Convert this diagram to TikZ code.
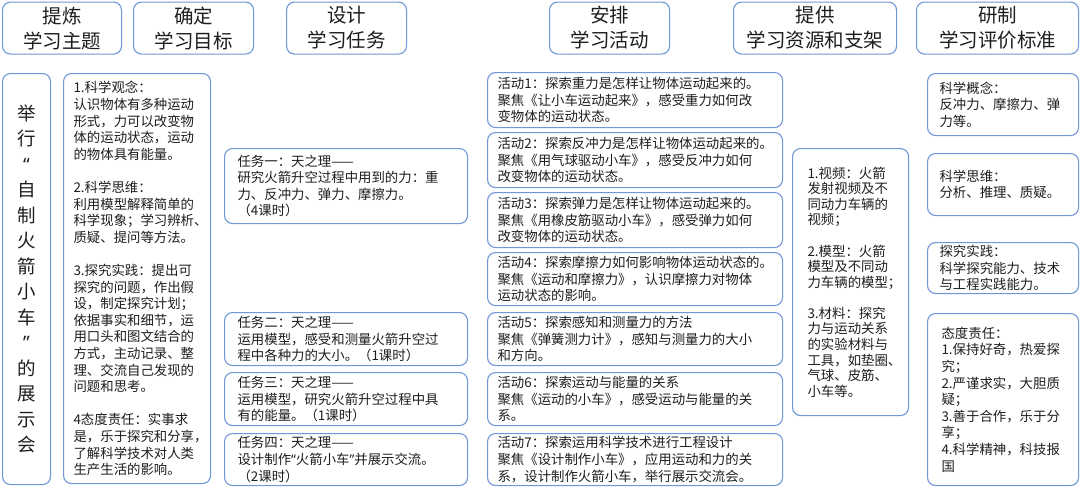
\documentclass[tikz,border=0pt]{standalone}
\usepackage{fontspec}
\setmainfont{Noto Sans CJK SC}
\newfontfamily\quotefont{Noto Sans}
\usetikzlibrary{positioning}
\definecolor{frame}{HTML}{7097D8}
\definecolor{ink}{HTML}{1E1E1E}
\newcommand{\headfont}{\fontsize{19.5}{25}\selectfont}
\newcommand{\themefont}{\fontsize{18.5}{25.5}\selectfont}
\newcommand{\bodyfont}{\fontsize{13.4}{16.6}\selectfont}
\newcommand{\gap}{\\[16.6pt]}
\newcommand{\openq}{{\quotefont“}}
\newcommand{\closeq}{{\quotefont”}}

\begin{document}
\begin{tikzpicture}[x=1pt, y=-1pt,
  box/.style={draw=frame, line width=1.1pt, rounded corners=8pt, inner sep=0pt, anchor=north west, text=ink},
  head/.style={box, minimum height=52, align=center, font=\headfont},
  cell/.style={box, align=left, font=\bodyfont, inner xsep=#1},
  cell/.default=10pt]
  \useasboundingbox[fill=white] (0,0) rectangle (1080,488);

  % header row
  \foreach \nm/\x/\w/\txt in {h1/2/119/{提炼\\学习主题}, h2/133/120/{确定\\学习目标},
      h3/286/120/{设计\\学习任务}, h4/549/120/{安排\\学习活动},
      h5/733/163/{提供\\学习资源和支架}, h6/916/162/{研制\\学习评价标准}}
    \node[head, minimum width=\w] (\nm) at (\x,1.5) {\txt};

  % theme
  \node[box, minimum width=48, minimum height=411, align=center, font=\themefont] (theme) at (2,73)
    {举\\行\\\openq\\自\\制\\火\\箭\\小\\车\\\closeq\\的\\展\\示\\会};

  % goals
  \node[cell, minimum width=147, minimum height=410, text width=127] (goals) at (63,73)
    {1.科学观念：\\认识物体有多种运动\\形式，力可以改变物\\体的运动状态，运动\\的物体具有能量。\gap
     2.科学思维：\\利用模型解释简单的\\科学现象；学习辨析、\\质疑、提问等方法。\gap
     3.探究实践：提出可\\探究的问题，作出假\\设，制定探究计划；\\依据事实和细节，运\\用口头和图文结合的\\方式，主动记录、整\\理、交流自己发现的\\问题和思考。\gap
     4态度责任：实事求\\是，乐于探究和分享，\\了解科学技术对人类\\生产生活的影响。};

  % tasks
  \node[cell=13pt, minimum width=243, minimum height=75, text width=217] (task1) at (224,148)
    {任务一：天之理——\\研究火箭升空过程中用到的力：重\\力、反冲力、弹力、摩擦力。\\（4课时）};
  \node[cell=13pt, minimum width=243, minimum height=53, text width=217] (task2) at (224,312)
    {任务二：天之理——\\运用模型，感受和测量火箭升空过\\程中各种力的大小。（1课时）};
  \node[cell=13pt, minimum width=243, minimum height=53, text width=217] (task3) at (224,372)
    {任务三：天之理——\\运用模型，研究火箭升空过程中具\\有的能量。（1课时）};
  \node[cell=13pt, minimum width=243, minimum height=52, text width=217] (task4) at (224,433)
    {任务四：天之理——\\设计制作\openq 火箭小车\closeq 并展示交流。\\（2课时）};

  % activities
  \node[cell, minimum width=295, minimum height=55, text width=275] (act1) at (487,72)
    {活动1：探索重力是怎样让物体运动起来的。\\聚焦《让小车运动起来》，感受重力如何改\\变物体的运动状态。};
  \node[cell, minimum width=295, minimum height=55, text width=275] (act2) at (487,132)
    {活动2：探索反冲力是怎样让物体运动起来的。\\聚焦《用气球驱动小车》，感受反冲力如何\\改变物体的运动状态。};
  \node[cell, minimum width=295, minimum height=55, text width=275] (act3) at (487,192)
    {活动3：探索弹力是怎样让物体运动起来的。\\聚焦《用橡皮筋驱动小车》，感受弹力如何\\改变物体的运动状态。};
  \node[cell, minimum width=295, minimum height=53, text width=275] (act4) at (487,252)
    {活动4：探索摩擦力如何影响物体运动状态的。\\聚焦《运动和摩擦力》，认识摩擦力对物体\\运动状态的影响。};
  \node[cell, minimum width=295, minimum height=53, text width=275] (act5) at (487,312)
    {活动5：探索感知和测量力的方法\\聚焦《弹簧测力计》，感知与测量力的大小\\和方向。};
  \node[cell, minimum width=295, minimum height=53, text width=275] (act6) at (487,372)
    {活动6：探索运动与能量的关系\\聚焦《运动的小车》，感受运动与能量的关\\系。};
  \node[cell, minimum width=295, minimum height=52, text width=275] (act7) at (487,433)
    {活动7：探索运用科学技术进行工程设计\\聚焦《设计制作小车》，应用运动和力的关\\系，设计制作火箭小车，举行展示交流会。};

  % resources
  \node[cell=15pt, minimum width=116, minimum height=267, text width=86,
        font=\fontsize{13.4}{15.6}\selectfont] (res) at (792,148)
    {1.视频：火箭\\发射视频及不\\同动力车辆的\\视频；\\[15.6pt]
     2.模型：火箭\\模型及不同动\\力车辆的模型；\\[15.6pt]
     3.材料：探究\\力与运动关系\\的实验材料与\\工具，如垫圈、\\气球、皮筋、\\小车等。};

  % evaluation
  \node[cell=12pt, minimum width=151, minimum height=62, text width=127] (eval1) at (927,73)
    {科学概念：\\反冲力、摩擦力、弹\\力等。};
  \node[cell=12pt, minimum width=151, minimum height=62, text width=127] (eval2) at (927,153)
    {科学思维：\\分析、推理、质疑。};
  \node[cell=12pt, minimum width=151, minimum height=51, text width=127] (eval3) at (927,242)
    {探究实践：\\科学探究能力、技术\\与工程实践能力。};
  \node[cell=14pt, minimum width=151, minimum height=172, text width=123] (eval4) at (927,313)
    {态度责任：\\1.保持好奇，热爱探\\究；\\2.严谨求实，大胆质\\疑；\\3.善于合作，乐于分\\享；\\4.科学精神，科技报\\国};
\end{tikzpicture}
\end{document}
